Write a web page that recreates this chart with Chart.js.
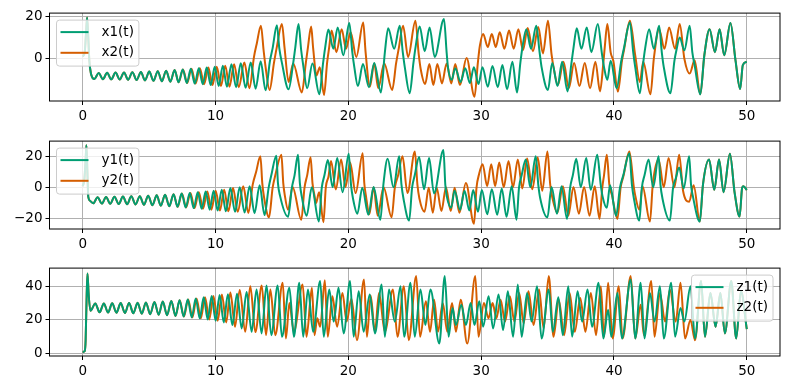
<!DOCTYPE html>
<html>
<head>
<meta charset="utf-8">
<script src="https://cdn.jsdelivr.net/npm/chart.js@4.4.1/dist/chart.umd.min.js"></script>
<style>
  body { margin: 0; background: #fff; width: 790px; height: 390px; overflow: hidden; position: relative; }
  canvas { position: absolute; left: 0; }
</style>
</head>
<body>
<canvas id="c1" width="790" height="129" style="top:2px"></canvas>
<canvas id="c2" width="790" height="129" style="top:130px"></canvas>
<canvas id="c3" width="790" height="129" style="top:257px"></canvas>
<script>
// values: [t, value] at turning points
const x1 = [[0,1],[0.15,3],[0.25,12],[0.33,19.5],[0.42,10],[0.5,-1],[0.62,-7],[0.88,-9.6],
  [1.2,-6.8],[1.52,-9.7],[1.84,-6.7],[2.15,-9.8],[2.47,-6.6],[2.79,-9.9],[3.11,-6.5],[3.42,-10],[3.74,-6.4],[4.06,-10.1],[4.38,-6.3],[4.69,-10.3],[5.01,-6.1],[5.33,-10.5],[5.65,-5.9],[5.96,-10.7],[6.28,-5.7],[6.6,-10.9],[6.92,-5.4],[7.22,-11.2],[7.53,-5.1],[7.84,-11.5],[8.14,-4.8],[8.44,-11.8],[8.74,-4.5],[9.04,-12.1],[9.34,-4.2],[9.64,-12.5],[9.94,-3.8],[10.24,-12.9],[10.55,-3.3],[10.86,-13.3],[11.2,-2.6],[11.55,-13.5],[11.9,-2.2],[12.27,-13.8],[12.65,-1.8],[13.02,-14.2],[13.4,-1.25],[13.77,-15],
  [14.1,-1],[14.3,5],[14.62,15.9],[14.8,5],[15,-2],[15.5,-14.5],[15.85,-2],[16,5],[16.25,16.4],[16.45,4],[16.6,-3],[16.9,-14],[17.3,-2.3],[17.82,-16.9],[18.1,-2],[18.25,5],[18.5,13.8],[18.87,4.7],[19.2,14.8],[19.62,1.6],[20.07,16.9],[20.3,3],[20.45,-4],[20.72,-13],[21.1,-2.5],[21.55,-13.5],[21.95,-2],[22.45,-16],[22.75,3],[23,14.4],[23.45,4.7],[23.87,15.6],[24.1,3],[24.25,-4],[24.62,-16.4],[24.9,-2],[25.05,5],[25.37,15.3],[25.75,3.5],[26.12,14.8],[26.5,0.8],[27.2,18.75],[27.4,3],[27.5,-4],[27.78,-10],[28.05,-4.5],[28.45,-11],[28.8,-4.5],[29.15,-11.5],[29.45,-4],[29.8,-12],[30.1,-4],[30.5,-13.3],[30.85,-3.5],[31.25,-13.5],[31.6,-3],[31.95,-14.5],[32.35,-1.5],[32.7,-16],[32.95,-2],[33.1,5],[33.4,14],[33.75,4.7],[34.15,15.6],[34.4,3],[34.55,-4],[35.03,-14.8],[35.35,-2],[35.75,-13],[36.1,-1.5],[36.5,-15.5],[36.8,-2],[36.95,5],[37.2,14.4],[37.55,4.7],[37.95,14.8],[38.3,3.1],[38.78,16.4],[39.1,2],[39.25,-4],[39.5,-10],[39.75,-1],[40.2,-14],[40.55,-1],[40.75,5],[41.2,17.2],[41.45,3],[41.6,-4],[41.95,-16.4],[42.2,-2],[42.35,5],[42.65,14],[43,4.7],[43.4,15.6],[43.6,3],[43.75,-4],[44.25,-16.4],[44.55,-1],[44.7,4],[44.95,10],[45.3,4],[45.7,15.6],[45.9,3],[46.07,-3],[46.5,-16.9],[46.8,1.5],[47.2,14],[47.6,3.1],[47.95,14],[48.3,1.6],[48.77,16.9],[49.15,-0.8],[49.5,-14.4],[49.7,-3],[50,-1.5]];

const x2 = [[0,1],[0.15,3],[0.25,12],[0.33,19.5],[0.42,10],[0.5,-1],[0.62,-7],[0.88,-9.6],
  [1.2,-6.8],[1.52,-9.7],[1.84,-6.7],[2.15,-9.8],[2.47,-6.6],[2.79,-9.9],[3.11,-6.5],[3.42,-10],[3.74,-6.4],[4.06,-10.1],[4.38,-6.3],[4.69,-10.3],[5.01,-6.1],[5.33,-10.5],[5.65,-5.9],[5.96,-10.7],[6.28,-5.7],[6.6,-10.9],[6.92,-5.4],[7.23,-11.2],[7.55,-5.1],[7.87,-11.5],[8.19,-4.8],[8.5,-11.8],[8.82,-4.5],[9.14,-12.1],[9.46,-4.2],[9.77,-12.5],[10.09,-3.8],[10.41,-12.9],[10.73,-3.3],[11.05,-13.3],[11.4,-2.6],[11.75,-13.5],[12.17,-1.8],[12.55,-14],
  [12.9,1],[13.1,7],[13.42,15.6],[13.62,4],[13.75,-3],[14.07,-14.8],[14.4,-2],[14.6,5],[15,16.4],[15.2,5],[15.5,-11],[15.85,-2.3],[16.5,-16],[16.8,-2],[16.95,5],[17.2,15.2],[17.35,5],[17.6,-8],[17.85,-4],[18.17,-17.2],[18.4,-2],[18.55,5],[18.74,13.3],[19.1,3.1],[19.5,14],[19.82,4.7],[20.17,12.5],[20.6,0.8],[21.12,17.2],[21.3,3],[21.62,-13.3],[21.95,-2.3],[22.25,-14],[22.7,-2.3],[23.3,-14.8],[23.6,-2],[23.8,5],[24.12,15.6],[24.5,0.8],[25.05,18],[25.3,2],[25.45,-5],[25.78,-12],[26.1,-2.5],[26.4,-12.5],[26.7,-2.5],[27.05,-11.7],[27.4,-2.3],[27.75,-11.7],[28.05,-2.5],[28.4,-12.5],[28.9,0.3],[29.5,-18],[29.75,-2],[29.9,6],[30.15,11.7],[30.5,5.5],[30.8,11.7],[31.1,5.5],[31.4,12.5],[31.75,4.7],[32.1,13.3],[32.45,4.7],[32.8,14],[33.15,4],[33.5,14.5],[33.9,3.5],[34.3,15],[34.65,2.5],[35.03,18],[35.3,2],[35.45,-4],[35.78,-12.5],[36.2,-1.5],[36.6,-14],[37,-2],[37.4,-13],[37.8,-2],[38.2,-14],[38.6,-1.5],[38.95,-15.5],[39.2,-2],[39.3,5],[39.5,16.4],[39.75,3],[39.95,-1],[40.3,-15.6],[40.6,-1],[40.75,4],[41.2,18],[41.6,1.5],[41.95,-11],[42.2,-1.5],[42.75,-16.9],[43,0],[43.4,14],[43.8,4.7],[44.15,14.8],[44.6,4.7],[44.95,16.4],[45.3,0],[45.7,-7],[46.07,-0.8],[46.5,-16.9],[46.8,1.5],[47.2,14],[47.6,3.1],[47.95,14],[48.3,1.6],[48.77,16.9],[49.15,-0.8],[49.5,-14.4],[49.7,-3],[50,-1.5]];

const y1 = [[0,1],[0.12,5],[0.22,18],[0.28,27.5],[0.36,8],[0.42,-6],[0.55,-8.5],[0.8,-10.15],
  [1.12,-6.2],[1.44,-10.3],[1.76,-6.06],[2.07,-10.44],[2.39,-5.92],[2.71,-10.58],[3.03,-5.78],[3.34,-10.72],[3.66,-5.64],[3.98,-10.86],[4.3,-5.5],[4.61,-11.14],[4.93,-5.2],[5.25,-11.42],[5.57,-4.94],[5.88,-11.7],[6.2,-4.65],[6.52,-12],[6.84,-4.23],[7.14,-12.4],[7.45,-3.81],[7.76,-12.83],[8.06,-3.39],[8.36,-13.26],[8.66,-2.96],[8.96,-13.68],[9.26,-2.54],[9.56,-14.24],[9.86,-1.98],[10.16,-14.8],[10.47,-1.27],[10.78,-15.37],[11.12,-0.28],[11.47,-15.65],[11.82,0.28],[12.19,-16.1],[12.57,0.85],[12.94,-16.6],[13.32,1.6],[13.69,-17.8],
  [14,0],[14.2,8],[14.58,20.7],[14.7,3],[14.85,-5],[15.46,-18.9],[15.75,0],[15.95,8],[16.21,21.3],[16.35,3],[16.5,-6],[16.86,-18.2],[17.25,0.2],[17.78,-22],[18,0],[18.2,8],[18.46,17.9],[18.82,0.2],[19.16,19.2],[19.57,-2.9],[20.03,22],[20.2,2],[20.35,-7],[20.68,-16.9],[21.05,0],[21.51,-17.6],[21.9,0.5],[22.41,-20.8],[22.65,3],[22.96,18.7],[23.4,0.2],[23.83,20.3],[24,2],[24.15,-7],[24.58,-21.3],[24.8,0],[25,8],[25.33,19.9],[25.7,-1],[26.08,19.2],[26.45,-3.7],[27.16,24.4],[27.3,2],[27.42,-6],[27.74,-13],[28,-2],[28.41,-14.3],[28.75,-2],[29.11,-14.8],[29.4,-1.5],[29.76,-15.6],[30.05,-1.5],[30.46,-17.3],[30.8,-1],[31.21,-17.6],[31.55,-0.5],[31.91,-18.9],[32.3,1],[32.66,-20.8],[32.85,0],[33.05,8],[33.36,18.2],[33.7,0.2],[34.11,20.3],[34.3,2],[34.45,-7],[34.99,-19.2],[35.3,0.5],[35.71,-16.9],[36.05,1],[36.46,-20.2],[36.7,0],[36.9,8],[37.16,18.7],[37.5,0.2],[37.91,19.2],[38.25,-1.4],[38.74,21.3],[39,2],[39.15,-6],[39.46,-13],[39.7,1.5],[40.16,-18.2],[40.45,0],[40.7,8],[41.16,22.4],[41.35,2],[41.5,-7],[41.91,-21.3],[42.1,0],[42.3,8],[42.61,18.2],[42.95,0.2],[43.36,20.3],[43.5,2],[43.65,-7],[44.21,-21.3],[44.45,0],[44.65,6],[44.91,13],[45.25,-0.5],[45.66,20.3],[45.8,2],[45.95,-6],[46.46,-22],[46.7,2],[47.16,18.2],[47.55,-1.4],[47.91,18.2],[48.25,-2.9],[48.73,22],[49.08,-3],[49.46,-18.7],[49.65,0],[49.75,1],[50,-1.5]];

const y2 = [[0,1],[0.12,5],[0.22,18],[0.28,27.5],[0.36,8],[0.42,-6],[0.55,-8.5],[0.8,-10.15],
  [1.12,-6.2],[1.44,-10.3],[1.76,-6.06],[2.07,-10.44],[2.39,-5.92],[2.71,-10.58],[3.03,-5.78],[3.34,-10.72],[3.66,-5.64],[3.98,-10.86],[4.3,-5.5],[4.61,-11.14],[4.93,-5.2],[5.25,-11.42],[5.57,-4.94],[5.88,-11.7],[6.2,-4.65],[6.52,-12],[6.84,-4.23],[7.15,-12.4],[7.47,-3.81],[7.79,-12.83],[8.11,-3.39],[8.42,-13.26],[8.74,-2.96],[9.06,-13.68],[9.38,-2.54],[9.69,-14.24],[10.01,-1.98],[10.33,-14.8],[10.65,-1.27],[10.97,-15.37],[11.32,-0.28],[11.67,-15.65],[12.09,0.85],[12.47,-16.4],
  [12.8,2],[13.05,10],[13.38,20.3],[13.52,3],[13.65,-6],[14.03,-19.2],[14.3,0],[14.5,8],[14.96,21.3],[15.1,3],[15.2,-4],[15.46,-14.3],[15.8,0.5],[16.46,-20.8],[16.7,0],[16.9,8],[17.16,19.8],[17.3,3],[17.45,-5],[17.56,-10],[17.8,-3],[18.13,-22.4],[18.3,0],[18.5,7],[18.7,17.3],[19.05,-1.2],[19.46,18.2],[19.78,0.2],[20.13,16.3],[20.55,-3.5],[21.08,22.4],[21.2,3],[21.32,-5],[21.58,-17.3],[21.9,0.2],[22.21,-18.2],[22.65,0.2],[23.26,-19.2],[23.5,0],[23.75,8],[24.08,20.3],[24.45,-3.5],[25.01,23.4],[25.2,2],[25.35,-7],[25.74,-15.6],[26.05,0],[26.36,-16.3],[26.65,0],[27.01,-15.2],[27.35,0.2],[27.71,-15.2],[28,0],[28.36,-16.3],[28.85,3],[29.46,-23.4],[29.65,0],[29.85,9],[30.11,15.2],[30.45,1],[30.76,15.2],[31.05,1],[31.36,16.3],[31.7,0.2],[32.06,17.3],[32.4,0.2],[32.76,18.2],[33.1,-0.5],[33.46,18.9],[33.85,-1],[34.26,19.5],[34.6,-2],[34.99,23.4],[35.2,2],[35.35,-6],[35.74,-16.3],[36.15,1],[36.56,-18.2],[36.95,0.5],[37.36,-16.9],[37.75,0.5],[38.16,-18.2],[38.55,1],[38.91,-20.2],[39.12,0],[39.25,8],[39.46,21.3],[39.65,2],[39.85,-5],[40.26,-20.3],[40.5,0],[40.7,7],[41.16,23.4],[41.5,0],[41.6,-5],[41.91,-14.3],[42.15,1],[42.71,-22],[42.92,2],[43.36,18.2],[43.75,0.2],[44.11,19.2],[44.55,0.2],[44.91,21.3],[45.2,-2],[45.66,-9.1],[46,1.5],[46.46,-22],[46.7,2],[47.16,18.2],[47.55,-1.4],[47.91,18.2],[48.25,-2.9],[48.73,22],[49.08,-3],[49.46,-18.7],[49.65,0],[49.75,1],[50,-1.5]];

const z1 = [[0,1],[0.15,1.5],[0.22,8],[0.3,35],[0.36,47.5],[0.45,35],[0.58,25.4],
  [0.95,29.8],[1.27,24.5],[1.59,29.8],[1.91,24.4],[2.22,29.9],[2.54,24.3],[2.86,30],[3.18,24.1],[3.49,30.1],[3.81,23.9],[4.13,30.2],[4.45,23.7],[4.76,30.4],[5.08,23.4],[5.4,30.6],[5.72,23.1],[6.03,30.9],[6.35,22.8],[6.67,31.2],[6.99,22.4],
  [7.29,31.6],[7.6,22],[7.91,32.1],[8.21,21.5],[8.51,32.7],[8.81,21],[9.11,33.4],[9.41,20.3],[9.71,34.2],[10.01,19.5],[10.31,34.8],[10.62,18.5],[10.93,35.2],[11.27,17],[11.62,35.5],[11.97,15],[12.34,36.5],[12.72,13],[13.09,38],[13.47,12],[13.84,40.4],[14.2,11],[14.68,40.4],[15,10],[15.56,39],[15.9,10],[16.31,42],[16.6,10],[16.96,38],[17.35,13],[17.88,43],[18.15,10],[18.56,38],[18.9,19],[19.26,39],[19.65,12],[20.13,43],[20.4,10],[20.78,37],[21.15,13],[21.61,35],[22,12],[22.51,41],[22.75,10],[23.06,38],[23.5,19],[23.93,40],[24.2,10],[24.68,42],[25,10],[25.43,38],[25.8,17],[26.18,38],[26.85,6],[27.26,46],[27.55,10],[27.84,27],[28.1,17],[28.51,29],[28.85,17],[29.21,30],[29.5,17],[29.86,31],[30.15,16],[30.56,34],[30.9,15],[31.31,35],[31.65,14],[32.01,37],[32.4,10],[32.76,41],[33.05,10],[33.46,36],[33.8,19],[34.21,40],[34.55,9],[35.09,38],[35.4,13],[35.81,33.5],[36.15,11],[36.56,40],[36.85,10],[37.26,37],[37.6,19],[38.01,38],[38.35,16],[38.84,42],[39.2,9],[39.56,26],[39.8,10],[40.26,36],[40.6,9],[41.26,44],[41.6,9],[42.01,42],[42.3,9],[42.71,36],[43.05,19],[43.46,40],[43.75,9],[44.31,42],[44.6,10],[45.01,27],[45.3,19],[45.76,40],[46.1,9],[46.56,43],[46.85,10],[47.26,36],[47.65,16],[48.01,36],[48.35,12],[48.83,43],[49.2,9],[49.56,37],[50,14.5]];

const z2 = [[0,1],[0.15,1.5],[0.22,8],[0.3,35],[0.36,47.5],[0.45,35],[0.58,25.4],
  [0.95,29.8],[1.27,24.5],[1.59,29.8],[1.91,24.4],[2.22,29.9],[2.54,24.3],[2.86,30],[3.18,24.1],[3.49,30.1],[3.81,23.9],[4.13,30.2],[4.45,23.7],[4.76,30.4],[5.08,23.4],[5.4,30.6],[5.72,23.1],[6.03,30.9],[6.35,22.8],[6.67,31.2],[6.99,22.4],[7.3,31.6],[7.62,22],[7.94,32.1],[8.26,21.5],[8.57,32.7],[8.89,21],[9.21,33.4],[9.53,20.3],[9.84,34.2],[10.16,19.5],[10.48,35.1],[10.8,18.5],[11.12,36.3],[11.47,16],[11.82,37.7],[12.24,13],[12.62,40],
  [13,12.8],[13.48,40.4],[13.8,11],[14.13,38],[14.5,11],[15.06,42],[15.3,9],[15.56,30],[15.9,13],[16.56,41],[16.85,10],[17.26,39],[17.45,11],[17.66,21],[17.88,16],[18.23,43.5],[18.45,10],[18.8,34],[19.15,16],[19.56,36],[19.87,19],[20.23,32.5],[20.65,8],[21.18,44],[21.4,10],[21.68,34.5],[22,13],[22.31,36],[22.75,13],[23.36,38],[23.7,10],[24.18,40],[24.55,8],[25.11,46],[25.4,10],[25.84,31],[26.15,13],[26.46,32],[26.75,13],[27.11,30],[27.45,13],[27.81,30],[28.1,13],[28.46,32],[28.95,6],[29.56,46],[29.8,10],[30.21,30],[30.55,21],[30.86,30],[31.15,21],[31.46,32],[31.8,19],[32.16,34],[32.5,19],[32.86,36],[33.2,18],[33.56,37],[33.95,17],[34.36,38],[34.7,15],[35.09,46],[35.45,10],[35.84,32],[36.25,11],[36.66,36],[37.05,13],[37.46,33],[37.85,13],[38.26,36],[38.65,11],[39.01,40],[39.25,10],[39.56,42],[39.9,9],[40.36,40],[40.65,9],[41.26,46],[41.6,9],[42.01,29],[42.25,11],[42.81,43],[43.05,10],[43.46,36],[43.85,19],[44.21,38],[44.65,19],[45.01,42],[45.35,9],[45.76,20],[46.1,8],[46.56,43],[46.85,10],[47.26,36],[47.65,16],[48.01,36],[48.35,12],[48.83,43],[49.2,9],[49.56,37],[50,14.5]];

const xTicks = [0, 10, 20, 30, 40, 50];
const yTicksX = [0, 20];
const yTicksY = [-20, 0, 20];
const yTicksZ = [0, 20, 40];

const GREEN = '#009E73';
const ORANGE = '#D55E00';
const FONT = { family: 'DejaVu Sans', size: 13.5 };

// box round the plot + matplotlib style legend
const framePlugin = {
  id: 'frame',
  afterDraw(chart, args, opts) {
    const ctx = chart.ctx;
    const a = chart.chartArea;
    ctx.save();
    ctx.strokeStyle = '#000';
    ctx.lineWidth = 1;
    ctx.strokeRect(a.left, a.top, a.right - a.left, a.bottom - a.top);

    ctx.font = FONT.size + 'px "' + FONT.family + '"';
    const items = chart.data.datasets;
    let tw = 0;
    items.forEach(d => { tw = Math.max(tw, ctx.measureText(d.label).width); });
    const w = 45 + tw + 5;
    const h = 46;
    const bx = opts.side === 'right' ? a.right - 7 - w : a.left + 7;
    const by = a.top + 7;
    ctx.beginPath();
    ctx.roundRect(bx, by, w, h, 3);
    ctx.fillStyle = 'rgba(255,255,255,0.8)';
    ctx.fill();
    ctx.strokeStyle = '#cccccc';
    ctx.stroke();
    items.forEach((d, i) => {
      const ly = by + 12 + i * 20.7;
      ctx.beginPath();
      ctx.strokeStyle = d.borderColor;
      ctx.lineWidth = 2;
      ctx.moveTo(bx + 4, ly);
      ctx.lineTo(bx + 32, ly);
      ctx.stroke();
      ctx.fillStyle = '#000';
      ctx.textBaseline = 'middle';
      ctx.fillText(d.label, bx + 45, ly);
    });
    ctx.restore();
  }
};

function fixTicks(values) {
  return scale => { scale.ticks = values.map(v => ({ value: v })); };
}

function points(arr) {
  return arr.map(p => ({ x: p[0], y: p[1] }));
}

function panel(id, s1, s2, names, yMin, yMax, yTicks, side) {
  return new Chart(document.getElementById(id), {
    type: 'line',
    data: {
      datasets: [
        { label: names[0], data: points(s1), borderColor: GREEN },
        { label: names[1], data: points(s2), borderColor: ORANGE }
      ]
    },
    options: {
      responsive: false,
      animation: false,
      events: [],
      layout: { padding: { top: 10, right: 10, left: 0, bottom: 0 } },
      elements: {
        point: { radius: 0 },
        line: { borderWidth: 2, cubicInterpolationMode: 'monotone', borderJoinStyle: 'round', fill: false }
      },
      plugins: {
        legend: { display: false },
        tooltip: { enabled: false },
        frame: { side: side }
      },
      scales: {
        x: {
          type: 'linear', min: -2.5, max: 52.5,
          afterBuildTicks: fixTicks(xTicks),
          afterFit: s => { s.height = 30; },
          border: { display: false },
          grid: { color: '#b0b0b0', lineWidth: 1, tickLength: 4, tickColor: '#000', tickWidth: 1 },
          ticks: { font: FONT, color: '#000', padding: 3, autoSkip: false, maxRotation: 0 }
        },
        y: {
          type: 'linear', min: yMin, max: yMax,
          afterBuildTicks: fixTicks(yTicks),
          afterFit: s => { s.width = 49.5; },
          border: { display: false },
          grid: { color: '#b0b0b0', lineWidth: 1, tickLength: 4, tickColor: '#000', tickWidth: 1 },
          ticks: { font: FONT, color: '#000', padding: 3, callback: v => String(v).replace('-', '\u2212') }
        }
      }
    },
    plugins: [framePlugin]
  });
}

panel('c1', x1, x2, ['x1(t)', 'x2(t)'], -20.05, 21.6, yTicksX, 'left');
panel('c2', y1, y2, ['y1(t)', 'y2(t)'], -26.8, 30.2, yTicksY, 'left');
panel('c3', z1, z2, ['z1(t)', 'z2(t)'], -1.36, 50.7, yTicksZ, 'right');
</script>
</body>
</html>
